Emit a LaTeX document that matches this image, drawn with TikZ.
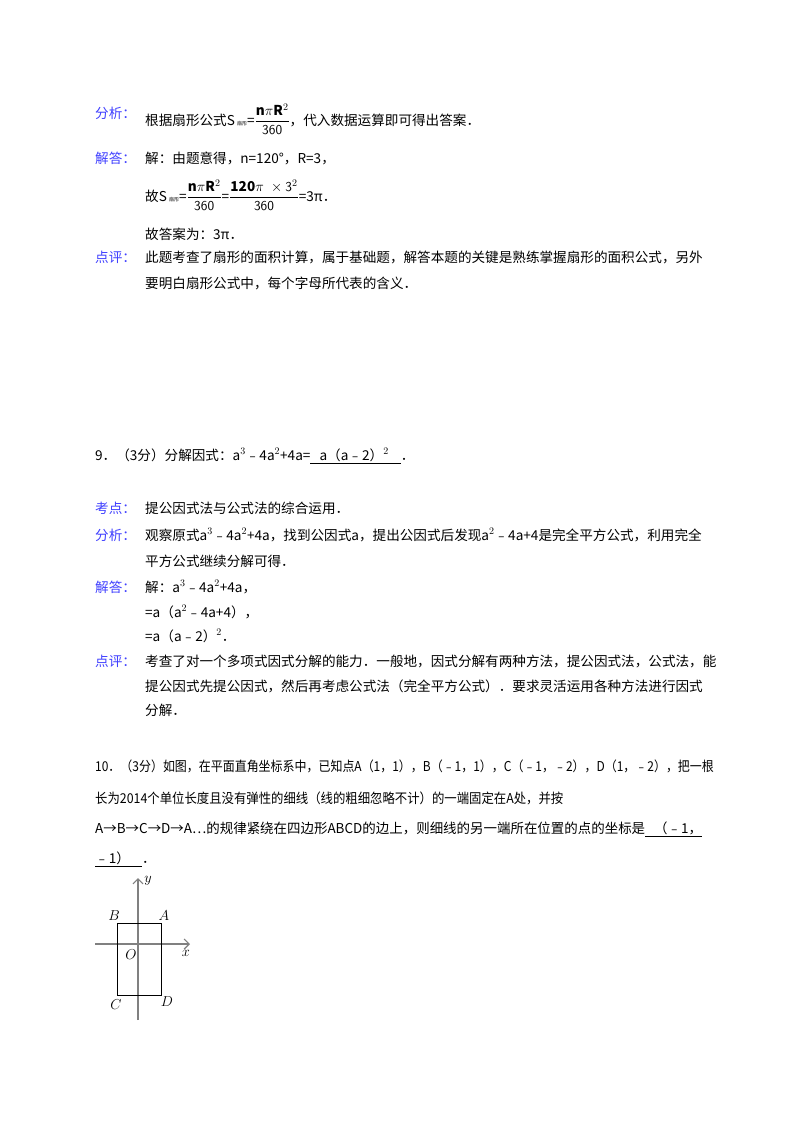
\documentclass[tikz,border=0pt]{standalone}
\usepackage{amsmath}
\usepackage{fontspec}
\setmainfont{Noto Sans CJK SC}
\usetikzlibrary{arrows.meta}
\begin{document}
\begin{tikzpicture}[x=1pt,y=-1pt,
 t/.style={anchor=base west,inner sep=0pt,font=\fontsize{13.6}{15}\selectfont},
 lab/.style={t,text=blue!75!white},
 ax/.style={draw=gray,line width=1.2pt,-{Straight Barb[length=5pt]}}]
\useasboundingbox[fill=white] (0,0) rectangle (800,1132);
\node[lab] (l1) at (95,118) {分析：};
\node[t] (s1) at (145,125) {根据扇形公式S\,{\tiny 扇形}=$\dfrac{\mathbf{n}\pi \mathbf{R}^2}{\mathsf{360}}$，代入数据运算即可得出答案．};
\node[lab] (l2) at (95,163) {解答：};
\node[t] (s2) at (145,163) {解：由题意得，n=120°，R=3，};
\node[t] (s3) at (145,201) {故S\,{\tiny 扇形}=$\dfrac{\mathbf{n}\pi \mathbf{R}^2}{\mathsf{360}}$=$\dfrac{\mathbf{120}\pi\;\times \mathsf{3}^2}{\mathsf{360}}$=3π．};
\node[t] (s4) at (145,239) {故答案为：3π．};
\node[lab] (l3) at (95,262) {点评：};
\node[t] (s5) at (145,262) {此题考查了扇形的面积计算，属于基础题，解答本题的关键是熟练掌握扇形的面积公式，另外};
\node[t] (s6) at (145,288) {要明白扇形公式中，每个字母所代表的含义．};
\node[t] (q9) at (95,460) {9．（3分）分解因式：a$^3$﹣4a$^2$+4a=\underline{\ \ \ a（a﹣2）$^2$\ \ \ \ }．};
\node[lab] (k1) at (95,513) {考点：};
\node[t] (k2) at (145,513) {提公因式法与公式法的综合运用．};
\node[lab] (f1) at (95,540) {分析：};
\node[t] (f2) at (145,540) {观察原式a$^3$﹣4a$^2$+4a，找到公因式a，提出公因式后发现a$^2$﹣4a+4是完全平方公式，利用完全};
\node[t] (f3) at (145,566) {平方公式继续分解可得．};
\node[lab] (j1) at (95,592) {解答：};
\node[t] (j2) at (145,592) {解：a$^3$﹣4a$^2$+4a，};
\node[t] (j3) at (145,617) {=a（a$^2$﹣4a+4），};
\node[t] (j4) at (145,641) {=a（a﹣2）$^2$．};
\node[lab] (d1) at (95,666) {点评：};
\node[t] (d2) at (145,666) {考查了对一个多项式因式分解的能力．一般地，因式分解有两种方法，提公因式法，公式法，能};
\node[t] (d3) at (145,691) {提公因式先提公因式，然后再考虑公式法（完全平方公式）．要求灵活运用各种方法进行因式};
\node[t] (d4) at (145,715) {分解．};
\node[t] (p1) at (95,771) {\scalebox{0.88}[1]{10．（3分）如图，在平面直角坐标系中，已知点A（1，1），B（﹣1，1），C（﹣1，﹣2），D（1，﹣2），把一根}};
\node[t] (p2) at (95,803) {\scalebox{0.91}[1]{长为2014个单位长度且没有弹性的细线（线的粗细忽略不计）的一端固定在A处，并按}};
\node[t] (p3) at (95,833) {\scalebox{0.99}[1]{A→B→C→D→A…的规律紧绕在四边形ABCD的边上，则细线的另一端所在位置的点的坐标是\underline{\ \ \ （﹣1，}}};
\node[t] (p4) at (95,863) {\underline{﹣1）\ \ \ \ }．};
% figure
\coordinate (xs) at (95,944); \coordinate (xe) at (190,944);
\coordinate (ys) at (138,1020); \coordinate (ye) at (138,878);
\draw[ax] (xs) -- (xe);
\draw[ax] (ys) -- (ye);
\coordinate (A) at (161,923); \coordinate (B) at (117,923);
\coordinate (C) at (117,995); \coordinate (D) at (161,995);
\draw[line width=0.9pt] (A) -- (B) -- (C) -- (D) -- cycle;
\begin{scope}[every node/.style={font=\fontsize{14}{15}\selectfont,inner sep=1pt}]
\node (nB) at (114,916) {$B$};
\node (nA) at (164,916) {$A$};
\node (nC) at (116,1005) {$C$};
\node (nD) at (167,1002) {$D$};
\node (nO) at (131,955) {$O$};
\node (nx) at (186,953) {$x$};
\node (ny) at (148,881) {$y$};
\end{scope}
\end{tikzpicture}
\end{document}
